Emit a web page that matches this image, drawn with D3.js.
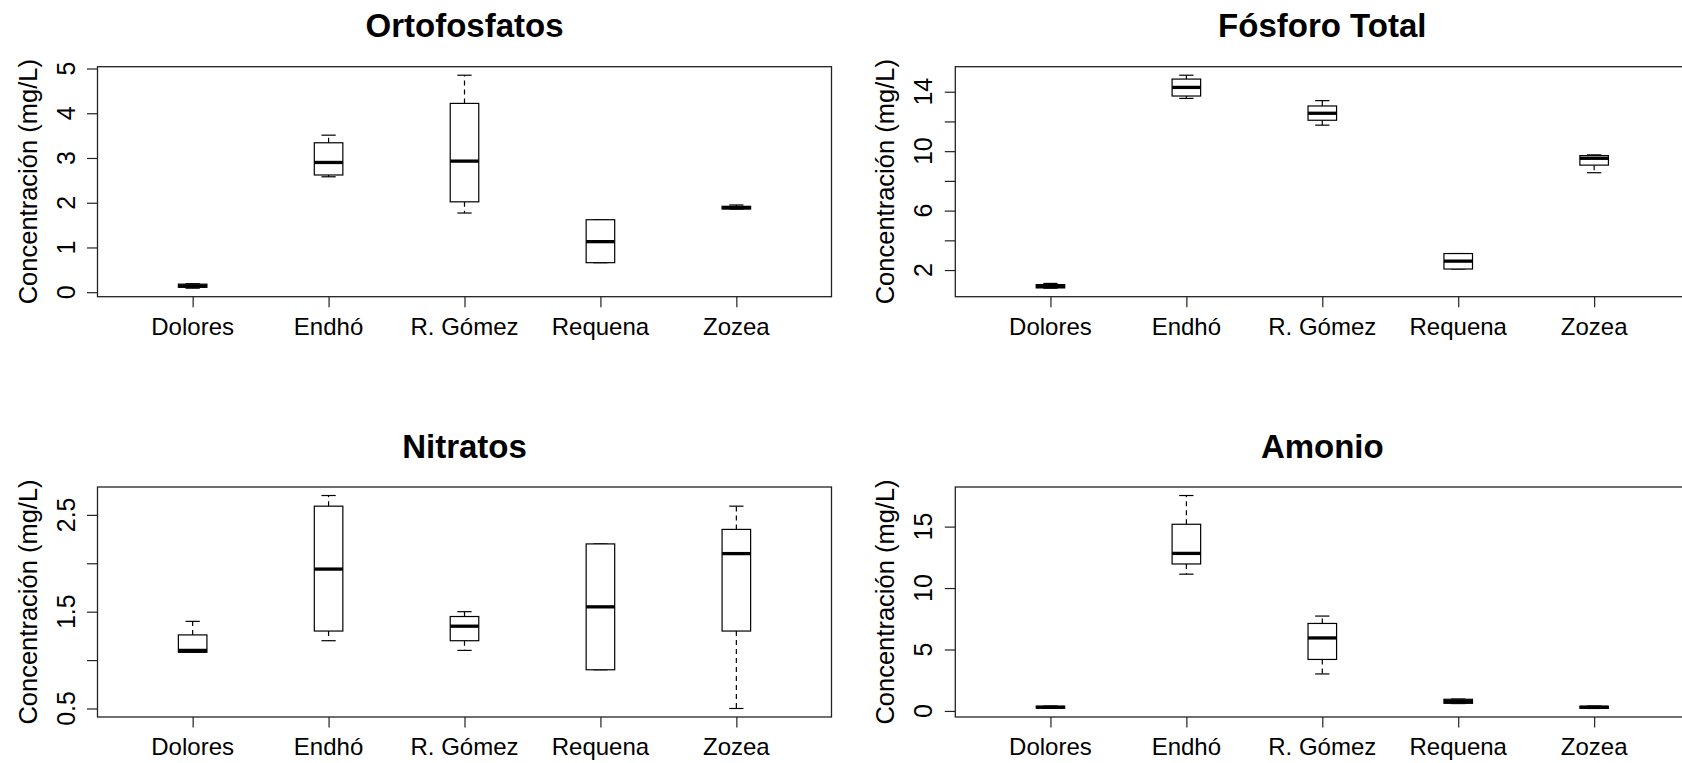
<!DOCTYPE html>
<html>
<head>
<meta charset="utf-8">
<script src="https://cdn.jsdelivr.net/npm/d3@7.9.0/dist/d3.min.js"></script>
<style>
  body { margin: 0; background: #fff; }
  svg { display: block; font-family: "Liberation Sans", Arial, sans-serif; }
</style>
</head>
<body>
<svg id="chart" width="1682" height="763"></svg>
<script>
// sites on the x axis
const sites = ["Dolores", "Endhó", "R. Gómez", "Requena", "Zozea"];

// box stats per site: [lower whisker, Q1, median, Q3, upper whisker]
const ortofosfatos = [
  [0.09, 0.11, 0.14, 0.18, 0.19],
  [2.58, 2.62, 2.90, 3.34, 3.51],
  [1.77, 2.02, 2.93, 4.22, 4.85],
  [0.66, 0.66, 1.13, 1.62, 1.62],
  [1.86, 1.86, 1.89, 1.92, 1.95]
];
const fosforoTotal = [
  [0.78, 0.80, 0.90, 1.02, 1.10],
  [13.55, 13.71, 14.29, 14.85, 15.11],
  [11.75, 12.08, 12.55, 13.04, 13.40],
  [2.07, 2.07, 2.60, 3.11, 3.11],
  [8.55, 9.06, 9.52, 9.70, 9.75]
];
const nitratos = [
  [1.08, 1.08, 1.10, 1.26, 1.40],
  [1.20, 1.30, 1.94, 2.59, 2.70],
  [1.10, 1.20, 1.35, 1.45, 1.50],
  [0.90, 0.90, 1.55, 2.20, 2.20],
  [0.50, 1.30, 2.10, 2.35, 2.59]
];
const amonio = [
  [0.22, 0.24, 0.30, 0.38, 0.40],
  [11.13, 11.96, 12.82, 15.19, 17.53],
  [3.01, 4.19, 5.94, 7.12, 7.72],
  [0.60, 0.62, 0.78, 0.95, 0.97],
  [0.20, 0.22, 0.30, 0.38, 0.40]
];

// y ticks and which of them get a label
const ortoTicks = [0, 1, 2, 3, 4, 5];
const ortoLabels = [0, 1, 2, 3, 4, 5];
const fosforoTicks = [2, 4, 6, 8, 10, 12, 14];
const fosforoLabels = [2, 6, 10, 14];
const nitratosTicks = [0.5, 1, 1.5, 2, 2.5];
const nitratosLabels = [0.5, 1.5, 2.5];
const amonioTicks = [0, 5, 10, 15];
const amonioLabels = [0, 5, 10, 15];

const yTitle = "Concentración (mg/L)";

const panels = [
  { title: "Ortofosfatos", stats: ortofosfatos, ticks: ortoTicks, labels: ortoLabels, left: 97.5, top: 66.7 },
  { title: "Fósforo Total", stats: fosforoTotal, ticks: fosforoTicks, labels: fosforoLabels, left: 955.3, top: 66.7 },
  { title: "Nitratos", stats: nitratos, ticks: nitratosTicks, labels: nitratosLabels, left: 97.5, top: 487 },
  { title: "Amonio", stats: amonio, ticks: amonioTicks, labels: amonioLabels, left: 955.3, top: 487 }
];

const plotW = 734, plotH = 230;
const ink = "#222";
let svg = d3.select("#chart");
svg.append("rect").attr("width", 1682).attr("height", 763).attr("fill", "#fff");

panels.forEach(p => drawPanel(p));

function drawPanel(p) {
  let g = svg.append("g").attr("transform", `translate(${p.left},${p.top})`);

  // R style range: data extended by 4% each side
  let lo = d3.min(p.stats, d => d[0]), hi = d3.max(p.stats, d => d[4]);
  let pad = (hi - lo) * 0.04;
  let y = d3.scaleLinear().domain([lo - pad, hi + pad]).range([plotH, 0]);
  let x = d3.scalePoint().domain(sites).range([0, plotW]).padding(0.7);
  let boxW = x.step() * 0.21;

  // boxes
  p.stats.forEach((s, i) => {
    let cx = x(sites[i]);
    let [wl, q1, med, q3, wh] = s;
    let b = g.append("g");
    b.append("line").attr("x1", cx).attr("x2", cx).attr("y1", y(q3)).attr("y2", y(wh))
      .attr("stroke", "#000").attr("stroke-width", 1.2).attr("stroke-dasharray", "5,4");
    b.append("line").attr("x1", cx).attr("x2", cx).attr("y1", y(q1)).attr("y2", y(wl))
      .attr("stroke", "#000").attr("stroke-width", 1.2).attr("stroke-dasharray", "5,4");
    [wl, wh].forEach(v => {
      b.append("line").attr("x1", cx - boxW / 4).attr("x2", cx + boxW / 4)
        .attr("y1", y(v)).attr("y2", y(v)).attr("stroke", "#000").attr("stroke-width", 1.2);
    });
    b.append("rect").attr("x", cx - boxW / 2).attr("y", y(q3))
      .attr("width", boxW).attr("height", Math.max(0, y(q1) - y(q3)))
      .attr("fill", "#fff").attr("stroke", "#000").attr("stroke-width", 1.2);
    b.append("line").attr("x1", cx - boxW / 2).attr("x2", cx + boxW / 2)
      .attr("y1", y(med)).attr("y2", y(med))
      .attr("stroke", "#000").attr("stroke-width", 3.3);
  });

  // frame
  g.append("rect").attr("width", plotW).attr("height", plotH)
    .attr("fill", "none").attr("stroke", ink).attr("stroke-width", 1.3);

  // y axis ticks
  let yAxis = d3.axisLeft(y).tickValues(p.ticks).tickSize(10.5).tickFormat("");
  let ya = g.append("g").call(yAxis);
  ya.select(".domain").remove();
  ya.selectAll(".tick line").attr("stroke", ink).attr("stroke-width", 1.2);

  p.labels.forEach(v => {
    g.append("text")
      .attr("transform", `translate(-23,${y(v)}) rotate(-90)`)
      .attr("text-anchor", "middle").attr("font-size", 25).attr("fill", "#000")
      .text(v);
  });

  // x axis ticks + site names
  let xAxis = d3.axisBottom(x).tickSize(10.5).tickFormat("");
  let xa = g.append("g").attr("transform", `translate(0,${plotH})`).call(xAxis);
  xa.select(".domain").remove();
  xa.selectAll(".tick line").attr("stroke", ink).attr("stroke-width", 1.2);

  sites.forEach(s => {
    g.append("text").attr("x", x(s)).attr("y", plotH + 38.3)
      .attr("text-anchor", "middle").attr("font-size", 24).attr("fill", "#000")
      .text(s);
  });

  // axis title
  g.append("text")
    .attr("transform", `translate(-61,${plotH / 2}) rotate(-90)`)
    .attr("text-anchor", "middle").attr("font-size", 25.5).attr("fill", "#000")
    .text(yTitle);

  // panel title
  g.append("text").attr("x", plotW / 2).attr("y", -29.4)
    .attr("text-anchor", "middle").attr("font-size", 33).attr("font-weight", "bold")
    .attr("fill", "#000")
    .text(p.title);
}
</script>
</body>
</html>
